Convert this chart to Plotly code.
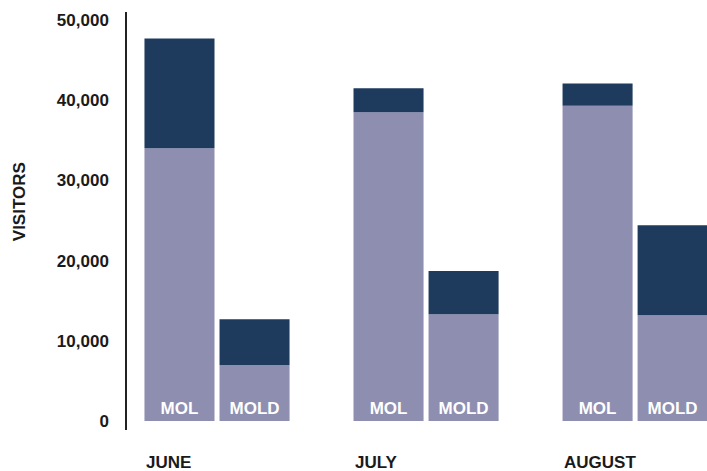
import plotly.graph_objects as go

months = ["JUNE", "JULY", "AUGUST"]
series = ["MOL", "MOLD"]
# base (light) and additional (dark) portions of each bar, visitors
mol_base = [34000, 38500, 39300]
mol_extra = [13700, 3000, 2800]
mold_base = [7000, 13300, 13200]
mold_extra = [5700, 5400, 11200]
tick_vals = [0, 10000, 20000, 30000, 40000, 50000]
tick_text = ["0", "10,000", "20,000", "30,000", "40,000", "50,000"]

LIGHT = "#8e8eb0"
DARK = "#1e3b5e"
FONT = "Liberation Sans, Arial, sans-serif"

fig = go.Figure()
for name, base, extra in [(series[0], mol_base, mol_extra), (series[1], mold_base, mold_extra)]:
    fig.add_trace(go.Bar(
        x=months, y=base, offsetgroup=name, marker=dict(color=LIGHT, line=dict(width=0)),
        text=[name] * len(months), textposition="inside", insidetextanchor="start",
        textangle=0,
        textfont=dict(family=FONT, size=17, color="white", weight="bold"),
        hoverinfo="skip", showlegend=False,
    ))
    fig.add_trace(go.Bar(
        x=months, y=extra, base=base, offsetgroup=name,
        marker=dict(color=DARK, line=dict(width=0)),
        hoverinfo="skip", showlegend=False,
    ))

for m in months:
    fig.add_annotation(
        x=m, xref="x", y=0, yref="paper", xanchor="left", yanchor="middle",
        xshift=-73, yshift=-32, text=m, showarrow=False,
        font=dict(family=FONT, size=17, color="#1a1a1a", weight="bold"),
    )

fig.add_annotation(
    x=0, xref="paper", y=0.545, yref="paper", xshift=-108, text="VISITORS",
    textangle=-90, showarrow=False, xanchor="center", yanchor="middle",
    font=dict(family=FONT, size=17, color="#1a1a1a", weight="bold"),
)

fig.update_layout(
    width=707, height=471,
    margin=dict(l=127, r=0, t=12, b=41),
    paper_bgcolor="white", plot_bgcolor="white",
    barmode="group", bargap=0.282, bargroupgap=0.0667,
    xaxis=dict(range=[-0.4306, 2.344], showticklabels=False, showline=False,
               showgrid=False, zeroline=False, ticks=""),
    yaxis=dict(range=[-1120, 51000], tickvals=tick_vals, ticktext=tick_text,
               showline=True, linecolor="#222222", linewidth=1.5,
               showgrid=False, zeroline=False, ticks="", ticklabelstandoff=13,
               tickfont=dict(family=FONT, size=17, color="#1a1a1a", weight="bold")),
    uniformtext=dict(mode="show", minsize=10),
)

fig.write_html("out.html")
